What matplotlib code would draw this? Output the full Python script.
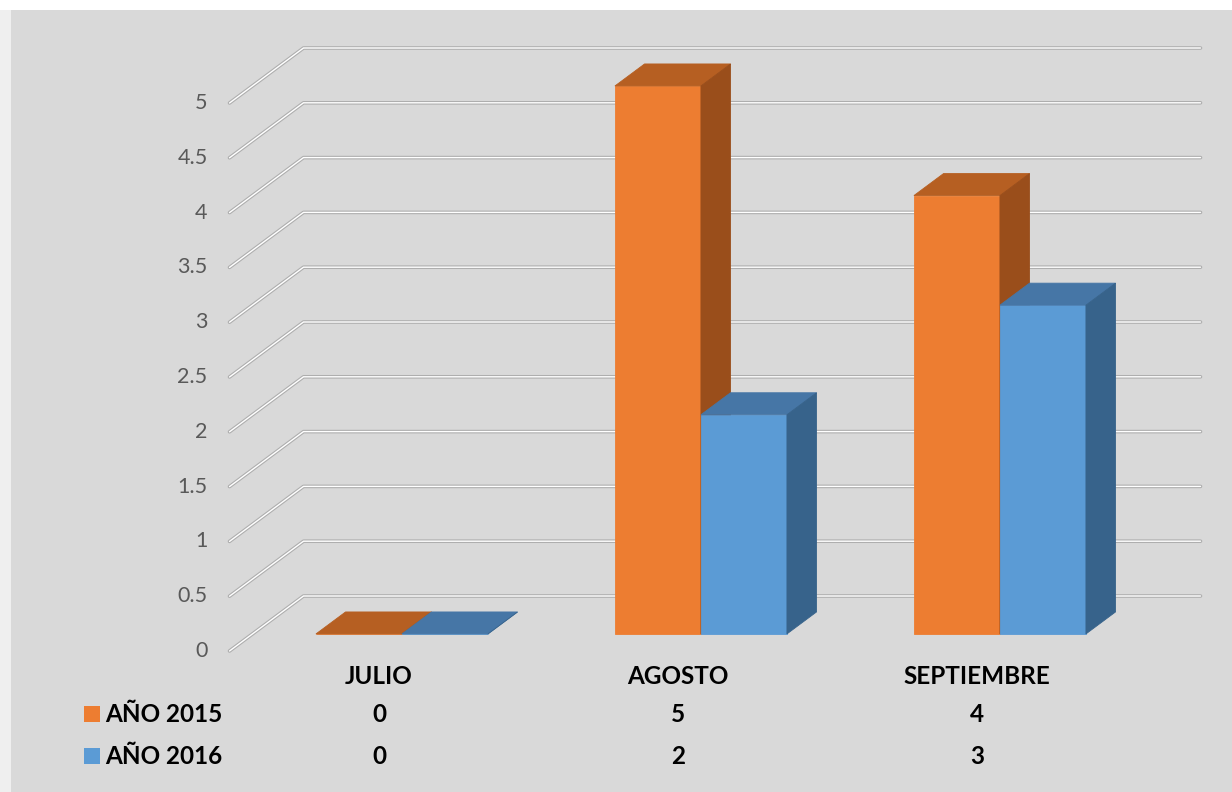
import matplotlib
matplotlib.use("Agg")
import matplotlib.pyplot as plt
from matplotlib.patches import Polygon, Rectangle
import matplotlib.transforms as mtransforms

# ---------------- data ----------------
categories = ["JULIO", "AGOSTO", "SEPTIEMBRE"]
series_names = ["AÑO 2015", "AÑO 2016"]
values_2015 = [0, 5, 4]
values_2016 = [0, 2, 3]
y_ticks = [0, 0.5, 1, 1.5, 2, 2.5, 3, 3.5, 4, 4.5, 5]
y_tick_labels = ["0", "0.5", "1", "1.5", "2", "2.5", "3", "3.5", "4", "4.5", "5"]

# ---------------- style ----------------
W, H = 1232, 792
FONT = ["Lato", "DejaVu Sans"]
front_cols = ["#ED7D31", "#5B9BD5"]
top_cols = ["#B65F22", "#4676A6"]
side_cols = ["#9A4E1B", "#37638B"]

# pixel layout of the projected scene
X0_PX, CAT_PX = 379, 299       # x pixel of category 0 (front plane), px per category
Y0_PX, VAL_PX = 651, 109.6     # y pixel (from top) of value 0 (front plane), px per unit
DEPTH_PX = (74, 55)            # shift of full depth (right, up)
DX = DEPTH_PX[0] / CAT_PX      # data units per full depth
DY = DEPTH_PX[1] / VAL_PX
BAR_D0, BAR_DD = 0.31, 0.40    # bar front depth and depth extent
BAR_W = 86 / CAT_PX

fig = plt.figure(figsize=(W / 100, H / 100), dpi=100)
fig.patch.set_facecolor("white")
fig.add_artist(Rectangle((0, 0), 11 / W, (H - 10) / H, transform=fig.transFigure,
                         facecolor="#EFEFEF", edgecolor="none", zorder=0))
fig.add_artist(Rectangle((11 / W, 0), 1 - 11 / W, (H - 10) / H, transform=fig.transFigure,
                         facecolor="#D9D9D9", edgecolor="none", zorder=0))

ax = fig.add_axes([0, 0, 1, 1])
ax.set_facecolor("none")
ax.set_xlim(-X0_PX / CAT_PX, (W - X0_PX) / CAT_PX)
ax.set_ylim((Y0_PX - H) / VAL_PX, Y0_PX / VAL_PX)
ax.axis("off")

xmin, xmax = -0.5, len(categories) - 0.5

def proj(x, v, d):
    return (x + DX * d, v + DY * d)

# gridlines (floor diagonal + back wall)
for t, lab in zip(y_ticks, y_tick_labels):
    pts = [proj(xmin, t, 0), proj(xmin, t, 1), proj(xmax, t, 1)]
    xs, ys = zip(*pts)
    ax.plot(xs, ys, color="#AEAEAE", lw=2.6, solid_capstyle="round", zorder=1)
    ax.plot(xs, ys, color="white", lw=1.0, solid_capstyle="round", zorder=1.1)
    ax.text(xmin - 22 / CAT_PX, t, lab, ha="right", va="center",
            fontsize=15.5, color="#595959", family=FONT)

# 3D bars
def bar3d(xl, v, k):
    xr = xl + BAR_W
    d0, d1 = BAR_D0, BAR_D0 + BAR_DD
    front = [proj(xl, 0, d0), proj(xr, 0, d0), proj(xr, v, d0), proj(xl, v, d0)]
    top = [proj(xl, v, d0), proj(xr, v, d0), proj(xr, v, d1), proj(xl, v, d1)]
    side = [proj(xr, 0, d0), proj(xr, 0, d1), proj(xr, v, d1), proj(xr, v, d0)]
    for poly, c in ((front, front_cols[k]), (top, top_cols[k]), (side, side_cols[k])):
        ax.add_patch(Polygon(poly, closed=True, facecolor=c, edgecolor=c,
                             lw=0.6, zorder=3, joinstyle="miter"))

for i in range(len(categories)):
    bar3d(i - BAR_W, values_2015[i], 0)
    bar3d(i, values_2016[i], 1)

# data table
row_y_px = [676, 714, 756]
def fy(px):
    return 1 - px / H

btr = mtransforms.blended_transform_factory(ax.transData, fig.transFigure)
TS = 17.5
for i, c in enumerate(categories):
    ax.text(i, fy(row_y_px[0]), c, transform=btr, ha="center", va="center",
            fontsize=TS, fontweight="bold", color="black", family=FONT)
    ax.text(i, fy(row_y_px[1]), str(values_2015[i]), transform=btr, ha="center",
            va="center", fontsize=TS, fontweight="bold", color="black", family=FONT)
    ax.text(i, fy(row_y_px[2]), str(values_2016[i]), transform=btr, ha="center",
            va="center", fontsize=TS, fontweight="bold", color="black", family=FONT)

for k, name in enumerate(series_names):
    yc = row_y_px[k + 1]
    fig.add_artist(Rectangle((84 / W, fy(yc + 8)), 16 / W, 16 / H, transform=fig.transFigure,
                             facecolor=front_cols[k], edgecolor="none"))
    fig.text(105 / W, fy(yc), name, ha="left", va="center", fontsize=TS,
             fontweight="bold", color="black", family=FONT)

fig.savefig("out.png", dpi=100, facecolor=fig.get_facecolor())
